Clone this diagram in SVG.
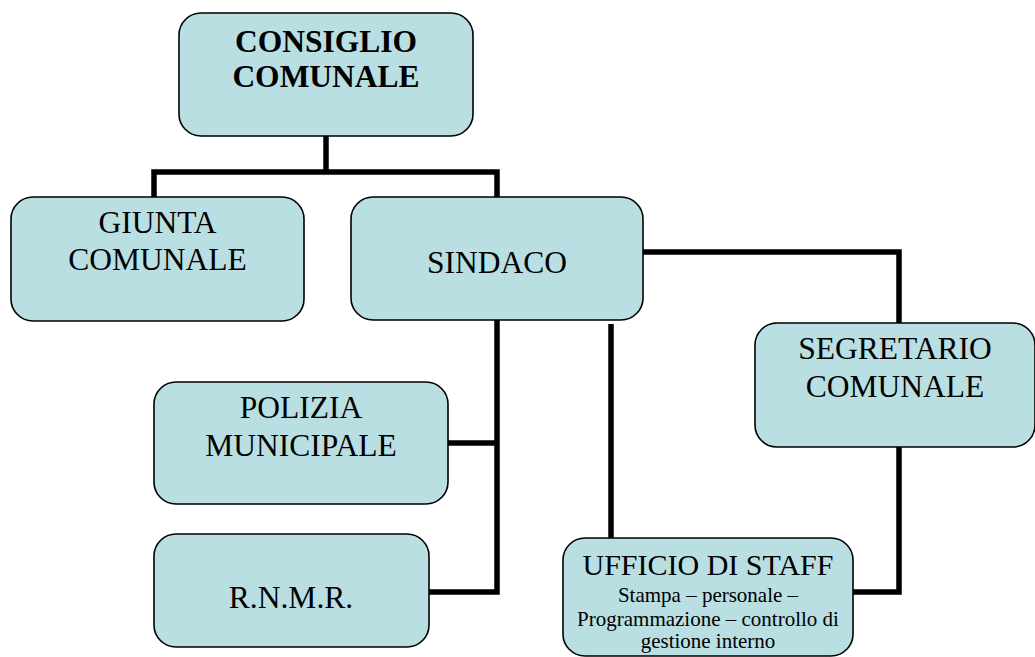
<svg xmlns="http://www.w3.org/2000/svg" width="1035" height="657" viewBox="0 0 1035 657">
<style>
.box{fill:#b9dfe3;stroke:#000;stroke-width:1.6}
.t{font-family:"Liberation Serif","Times New Roman",serif;font-size:31.5px;fill:#000;text-anchor:middle}
.b{font-weight:bold}
.s{font-size:21px}
.c{fill:none;stroke:#000;stroke-width:5.5;stroke-linejoin:miter;stroke-linecap:butt}
</style>
<rect width="1035" height="657" fill="#fff"/>
<g id="connectors">
<path class="c" d="M326 136 V172 M154 197 V172 H497 V197"/>
<path class="c" d="M643 252 H899 V323"/>
<path class="c" d="M497 320 V592 H429 M448 443 H497"/>
<path class="c" d="M611 324 V538"/>
<path class="c" d="M899 447 V592 H853"/>
</g>
<g id="consiglio">
<rect class="box" x="179" y="13" width="294" height="123" rx="22"/>
<text class="t b" x="326" y="52">CONSIGLIO</text>
<text class="t b" x="326" y="87">COMUNALE</text>
</g>
<g id="giunta">
<rect class="box" x="11" y="197" width="293" height="124" rx="22"/>
<text class="t" x="157.5" y="233">GIUNTA</text>
<text class="t" x="157.5" y="270">COMUNALE</text>
</g>
<g id="sindaco">
<rect class="box" x="351" y="197" width="292" height="123" rx="22"/>
<text class="t" x="497" y="273">SINDACO</text>
</g>
<g id="segretario">
<rect class="box" x="755" y="323" width="280" height="124" rx="22"/>
<text class="t" x="895" y="359">SEGRETARIO</text>
<text class="t" x="895" y="397">COMUNALE</text>
</g>
<g id="polizia">
<rect class="box" x="154" y="382" width="294" height="122" rx="22"/>
<text class="t" x="301" y="418">POLIZIA</text>
<text class="t" x="301" y="456">MUNICIPALE</text>
</g>
<g id="rnmr">
<rect class="box" x="154" y="534" width="275" height="113" rx="22"/>
<text class="t" x="291" y="608">R.N.M.R.</text>
</g>
<g id="ufficio">
<rect class="box" x="563" y="538" width="290" height="118" rx="22"/>
<text class="t" x="708" y="575" style="font-size:30px">UFFICIO DI STAFF</text>
<text class="t s" x="708" y="602">Stampa – personale –</text>
<text class="t s" x="708" y="626">Programmazione – controllo di</text>
<text class="t s" x="708" y="648">gestione interno</text>
</g>
</svg>
